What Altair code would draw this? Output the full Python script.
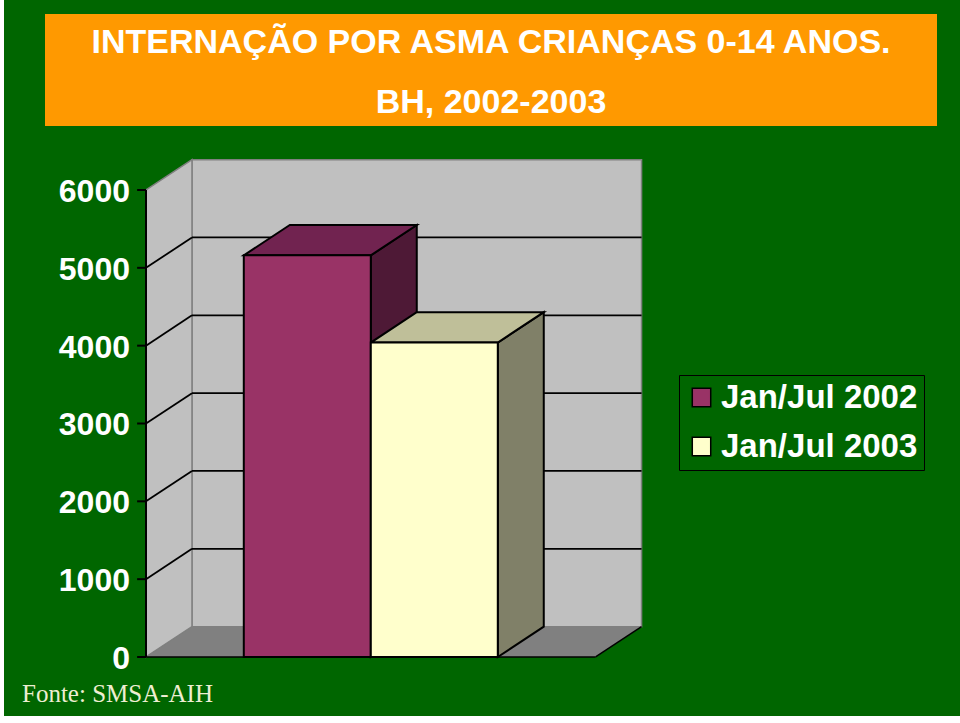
import altair as alt
import pandas as pd

# ---------------- data ----------------
categories = ["Jan/Jul 2002", "Jan/Jul 2003"]
values = [5160, 4040]
tick_values = [0, 1000, 2000, 3000, 4000, 5000, 6000]
tick_labels = ["0", "1000", "2000", "3000", "4000", "5000", "6000"]
front_colors = ["#993366", "#FFFFCC"]
top_colors = ["#712350", "#BFBF99"]
side_colors = ["#4E1936", "#808068"]
title_lines = ["INTERNAÇÃO POR ASMA CRIANÇAS 0-14 ANOS.", "BH, 2002-2003"]
source_note = "Fonte: SMSA-AIH"

# ---------------- layout (chart units) ----------------
W, H = 960, 723
Y_DOMAIN = [-848, 8441]
X_DOMAIN = [-1.1496, 6.4094]
DX, DY = 0.362, 390          # 3-D depth offset
LEAD = 0.77                  # gap between wall and first bar
BAR_W = 1.0
YMAX = tick_values[-1]
FLOOR_W = LEAD * 2 + BAR_W * len(values)

GREEN = "#006600"
ORANGE = "#FF9900"
WALL = "#C0C0C0"
FLOOR = "#808080"

xsc = alt.Scale(domain=X_DOMAIN, nice=False, zero=False)
ysc = alt.Scale(domain=Y_DOMAIN, nice=False, zero=False)


def X(f="x"):
    return alt.X(f"{f}:Q", scale=xsc, axis=None)


def Y(f="y"):
    return alt.Y(f"{f}:Q", scale=ysc, axis=None)


one = pd.DataFrame({"k": [0]})

# background frame
bg = alt.Chart(one).mark_rect(color=GREEN).encode(
    x=alt.value(4), x2=alt.value(W), y=alt.value(0), y2=alt.value(716))
title_box = alt.Chart(one).mark_rect(color=ORANGE).encode(
    x=alt.value(45), x2=alt.value(937), y=alt.value(14), y2=alt.value(126))
t1 = alt.Chart(pd.DataFrame({"t": [title_lines[0]]})).mark_text(
    font="Liberation Sans", fontSize=34, fontWeight="bold", color="white",
    align="center", baseline="alphabetic").encode(
    x=alt.value(491), y=alt.value(53), text="t:N")
t2 = alt.Chart(pd.DataFrame({"t": [title_lines[1]]})).mark_text(
    font="Liberation Sans", fontSize=34, fontWeight="bold", color="white",
    align="center", baseline="alphabetic").encode(
    x=alt.value(491), y=alt.value(113), text="t:N")

# walls and floor
back_wall = alt.Chart(pd.DataFrame({"x": [DX], "x2": [FLOOR_W + DX], "y": [DY], "y2": [YMAX + DY]})).mark_rect(
    color=WALL, stroke="#808080", strokeWidth=1.5).encode(
    x=X(), x2="x2:Q", y=Y(), y2="y2:Q")
left_wall = alt.Chart(pd.DataFrame({"x": [0, DX], "y": [0, DY], "y2": [YMAX, YMAX + DY]})).mark_area(
    orient="vertical", color=WALL, stroke="#808080", strokeWidth=1.5).encode(
    x=X(), y=Y(), y2="y2:Q")
floor = alt.Chart(pd.DataFrame({"y": [0, DY], "x": [0, DX], "x2": [FLOOR_W, FLOOR_W + DX]})).mark_area(
    orient="horizontal", color=FLOOR).encode(
    y=Y(), x=X(), x2="x2:Q")
floor_edges = alt.Chart(pd.DataFrame({"x": [0, FLOOR_W], "x2": [FLOOR_W, FLOOR_W + DX],
                                      "y": [0, 0], "y2": [0, DY]})).mark_rule(
    color="black", strokeWidth=1.5).encode(x=X(), x2="x2:Q", y=Y(), y2="y2:Q")

grid_vals = tick_values[1:-1]
grid_back = alt.Chart(pd.DataFrame({"x": [DX] * len(grid_vals), "x2": [FLOOR_W + DX] * len(grid_vals),
                                    "y": [v + DY for v in grid_vals]})).mark_rule(
    color="black", strokeWidth=1.8).encode(x=X(), x2="x2:Q", y=Y())
grid_side = alt.Chart(pd.DataFrame({"x": [0] * len(grid_vals), "x2": [DX] * len(grid_vals),
                                    "y": grid_vals, "y2": [v + DY for v in grid_vals]})).mark_rule(
    color="black", strokeWidth=1.8).encode(x=X(), x2="x2:Q", y=Y(), y2="y2:Q")

axis_line = alt.Chart(pd.DataFrame({"x": [0], "y": [0], "y2": [YMAX]})).mark_rule(
    color="black", strokeWidth=2).encode(x=X(), y=Y(), y2="y2:Q")
ticks = alt.Chart(pd.DataFrame({"x": [-0.07] * len(tick_values), "x2": [0] * len(tick_values),
                                "y": tick_values})).mark_rule(
    color="black", strokeWidth=2).encode(x=X(), x2="x2:Q", y=Y())
tick_text = alt.Chart(pd.DataFrame({"x": [-0.126] * len(tick_values), "y": tick_values,
                                    "t": tick_labels})).mark_text(
    font="Liberation Sans", fontSize=32, fontWeight="bold", color="white",
    align="right", baseline="middle", dy=2).encode(x=X(), y=Y(), text="t:N")

# bars
bar_layers = []
fronts = []
for i, (cat, v) in enumerate(zip(categories, values)):
    x0 = LEAD + i * BAR_W
    x1 = x0 + BAR_W
    side = alt.Chart(pd.DataFrame({"x": [x1, x1 + DX], "y": [0, DY], "y2": [v, v + DY]})).mark_area(
        orient="vertical", color=side_colors[i], stroke="black", strokeWidth=2).encode(
        x=X(), y=Y(), y2="y2:Q")
    top = alt.Chart(pd.DataFrame({"y": [v, v + DY], "x": [x0, x0 + DX], "x2": [x1, x1 + DX]})).mark_area(
        orient="horizontal", color=top_colors[i], stroke="black", strokeWidth=2).encode(
        y=Y(), x=X(), x2="x2:Q")
    bar_layers += [side, top]
    fronts.append({"series": cat, "x": x0, "x2": x1, "y": 0, "y2": v})

front = alt.Chart(pd.DataFrame(fronts)).mark_rect(stroke="black", strokeWidth=2, opacity=1).encode(
    x=X(), x2="x2:Q", y=Y(), y2="y2:Q",
    color=alt.Color("series:N", scale=alt.Scale(domain=categories, range=front_colors),
                    legend=alt.Legend(
                        orient="none", legendX=679, legendY=375, title=None,
                        symbolType="square", symbolSize=340, symbolStrokeColor="black",
                        symbolStrokeWidth=1.5, symbolOpacity=1,
                        labelFont="Liberation Sans", labelFontSize=33, labelFontWeight="bold",
                        labelColor="white", labelOffset=3, labelLimit=400,
                        rowPadding=15, padding=6, strokeColor="black", fillColor=GREEN)))

note = alt.Chart(pd.DataFrame({"t": [source_note]})).mark_text(
    font="Liberation Serif", fontSize=25, color="#EEEED2", align="left", baseline="alphabetic").encode(
    x=alt.value(22), y=alt.value(702), text="t:N")

chart = alt.layer(
    bg, title_box, t1, t2,
    back_wall, left_wall, floor, floor_edges, grid_back, grid_side,
    axis_line, ticks, tick_text,
    *bar_layers, front, note
).properties(
    width=W, height=H, padding=0, autosize=alt.AutoSizeParams(type="none"), background="white"
).configure_view(stroke=None)

chart.save("out.html", embed_options={"renderer": "svg", "actions": False})
